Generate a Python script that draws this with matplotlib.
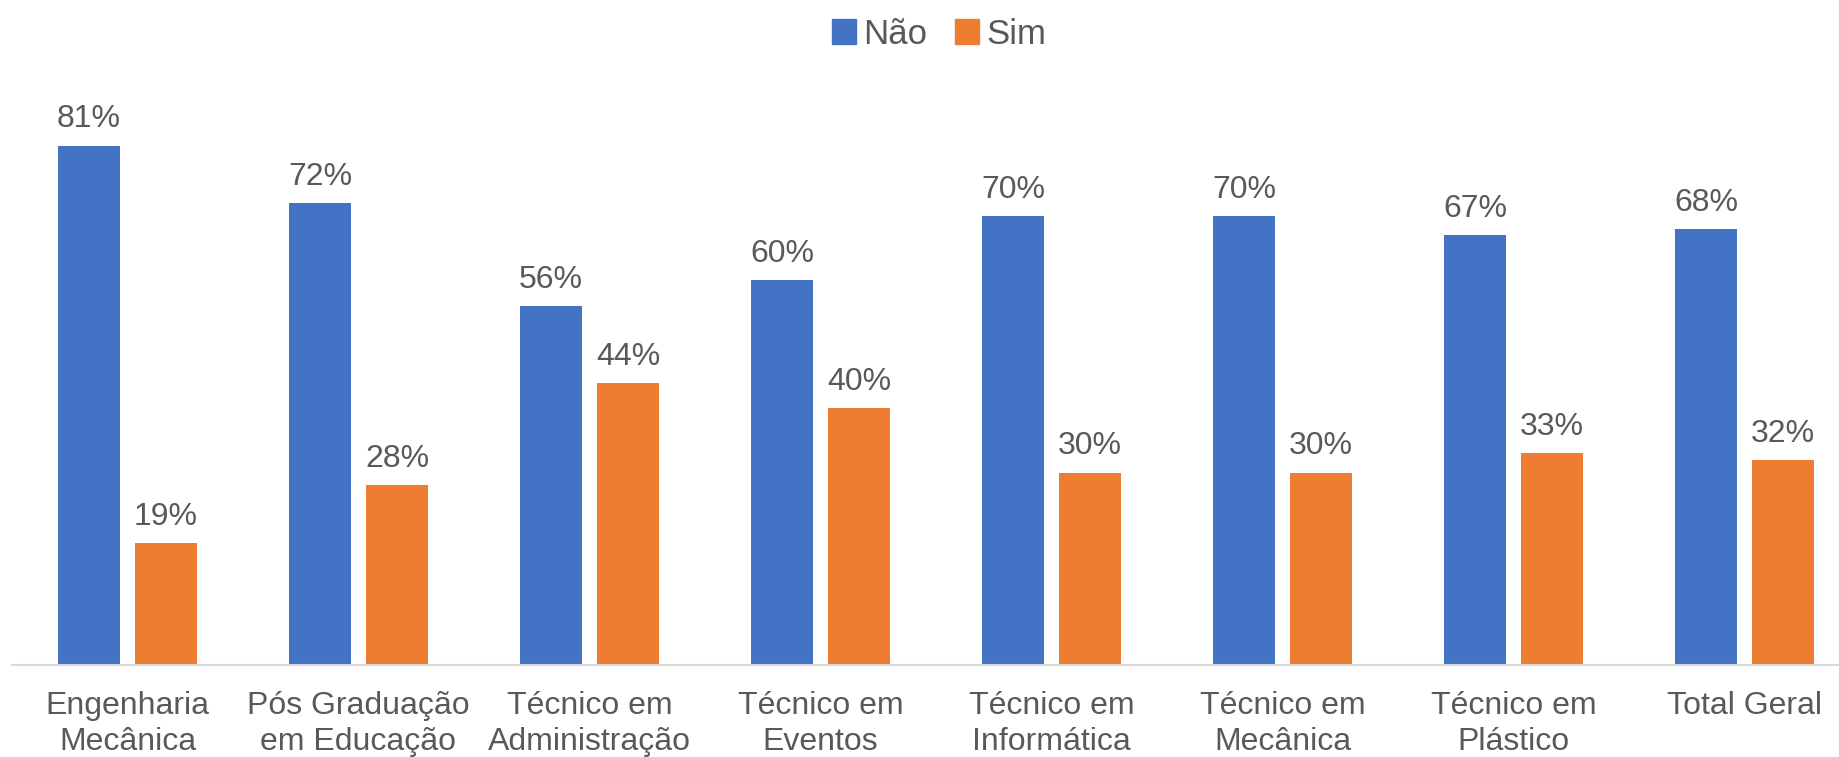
import numpy as np
import matplotlib.pyplot as plt
from matplotlib.patches import Patch

# --- DATA ---
categories = [
    "Engenharia\nMecânica",
    "Pós Graduação\nem Educação",
    "Técnico em\nAdministração",
    "Técnico em\nEventos",
    "Técnico em\nInformática",
    "Técnico em\nMecânica",
    "Técnico em\nPlástico",
    "Total Geral",
]
nao = [81, 72, 56, 60, 70, 70, 67, 68]
sim = [19, 28, 44, 40, 30, 30, 33, 32]
series_names = ["Não", "Sim"]

# --- STYLE ---
plt.rcParams['font.family'] = ['Liberation Sans', 'DejaVu Sans']
TEXT = '#595959'
BLUE = '#4472C4'
ORANGE = '#ED7D31'

W, H, DPI = 1840, 757, 100
fig = plt.figure(figsize=(W / DPI, H / DPI), dpi=DPI)

# axes placed in pixel terms (baseline at y=665, left edge at x=12)
left_px, right_px, base_px, top_px = 12, 1840, 665, 100
ax = fig.add_axes([left_px / W, 1 - base_px / H,
                   (right_px - left_px) / W, (base_px - top_px) / H])

pitch_px = 231
bar_w = 62 / pitch_px
gap = 15 / pitch_px
x = np.arange(len(categories))

b1 = ax.bar(x - gap / 2 - bar_w / 2, nao, bar_w, color=BLUE)
b2 = ax.bar(x + gap / 2 + bar_w / 2, sim, bar_w, color=ORANGE)

px_per_pct = 519.5 / 81
ax.set_ylim(0, (base_px - top_px) / px_per_pct)
ax.set_xlim(-0.5, -0.5 + (right_px - left_px) / pitch_px)

for bars, vals in ((b1, nao), (b2, sim)):
    for rect, v in zip(bars, vals):
        ax.annotate(f"{v}%", (rect.get_x() + rect.get_width() / 2, v),
                    xytext=(0, 8), textcoords='offset points',
                    ha='center', va='bottom', fontsize=23, color=TEXT)

ax.set_xticks(x)
ax.set_xticklabels(categories, fontsize=23, color=TEXT, linespacing=1.25)
ax.tick_params(axis='x', length=0, pad=19)
ax.set_yticks([])

for s in ('top', 'right', 'left'):
    ax.spines[s].set_visible(False)
ax.spines['bottom'].set_color('#D9D9D9')
ax.spines['bottom'].set_linewidth(1.5)

handles = [Patch(color=BLUE), Patch(color=ORANGE)]
fig.legend(handles, series_names, loc='center', bbox_to_anchor=(939 / W, 1 - 34 / H),
           ncol=2, frameon=False, fontsize=25, labelcolor=TEXT,
           handlelength=0.7, handleheight=0.7, handletextpad=0.2, columnspacing=0.8)

fig.savefig('out.png', dpi=DPI)
